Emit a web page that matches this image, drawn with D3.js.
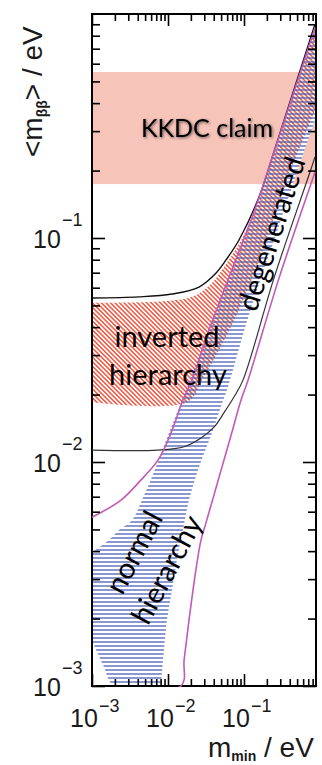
<!DOCTYPE html>
<html><head><meta charset="utf-8">
<script src="https://cdn.jsdelivr.net/npm/d3@7"></script>
<style>html,body{margin:0;padding:0;background:#fff;} svg{display:block;}</style>
</head><body><svg id="c" width="322" height="765"></svg>
<script>
// ---- data ----
const xDomain = [0.001, 0.886];
const yDomain = [0.001, 1];
const xMajorTicks = [1e-3, 1e-2, 1e-1];
const yMajorTicks = [1e-3, 1e-2, 1e-1];
const xTickExponents = ["\u22123", "\u22122", "\u22121"];
const yTickExponents = ["\u22123", "\u22122", "\u22121"];
const kkdcBand = [0.174, 0.551];

// black lines (inverted hierarchy bounds)
const ihUpperLine = [[0.001,0.0540],[0.00415,0.0546],[0.0113,0.0562],[0.0256,0.0604],[0.0429,0.0698],
 [0.0580,0.0798],[0.0859,0.098],[0.157,0.152],[0.272,0.268],[0.859,0.901]];
const ihLowerLine = [[0.001,0.0113],[0.00738,0.0113],[0.0163,0.0117],[0.0272,0.0128],[0.0403,0.0143],
 [0.0546,0.0166],[0.0738,0.0195],[0.0970,0.0232],[0.248,0.0662],[0.716,0.191],[0.859,0.230]];
// magenta lines (normal hierarchy bounds)
const nhUpperLine = [[0.001,0.00567],[0.00241,0.00676],[0.00442,0.00832],[0.00738,0.0102],[0.01,0.0125],
 [0.0127,0.0154],[0.0157,0.0189],[0.0207,0.0232],[0.0346,0.0388],[0.0675,0.0705],
 [0.136,0.131],[0.264,0.258],[0.859,0.866]];
const nhLowerLine = [[0.001,0],[0.0148,0],[0.0163,0.00131],[0.0189,0.00197],[0.0233,0.00330],[0.0272,0.00449],
 [0.0316,0.00535],[0.0403,0.00713],[0.0514,0.00951],[0.0695,0.0136],[0.0914,0.0189],
 [0.113,0.0232],[0.289,0.0662],[0.834,0.191],[0.859,0.197]];
// red hatched region (inverted hierarchy)
const ihHatchUpper = [[0.001,0.0513],[0.0103,0.0524],[0.0220,0.0551],[0.0368,0.0624],[0.0546,0.0743],
 [0.0859,0.0941],[0.157,0.146],[0.272,0.258],[0.859,0.866]];
const ihHatchLower = [[0.001,0.0185],[0.0178,0.0185],[0.0280,0.0232],[0.0469,0.0316],[0.0859,0.0478],
 [0.168,0.0839],[0.391,0.191],[0.859,0.372]];
// blue hatched region (normal hierarchy)
const nhHatchUpper = [[0.001,0.00396],[0.00167,0.00449],[0.00226,0.00497],[0.00336,0.00550],[0.00455,0.00676],
 [0.00695,0.00951],[0.0103,0.0135],[0.0153,0.0189],[0.0220,0.0258],[0.0346,0.0388],[0.0675,0.0705],
 [0.136,0.131],[0.264,0.258],[0.859,0.849]];
const nhHatchLower = [[0.001,0.00160],[0.00140,0.00124],[0.00195,0],[0.0080,0],[0.00809,0.00103],
 [0.00885,0.00145],[0.0097,0.00197],[0.0113,0.00268],[0.0131,0.00365],[0.0157,0.00497],[0.0189,0.00676],
 [0.0256,0.00951],[0.0380,0.0135],[0.0514,0.0183],[0.0615,0.0216],[0.116,0.0453],[0.298,0.117],[0.859,0.337]];

// ---- drawing ----
const plot = {left:92, right:316, top:14, bottom:686};
const svg = d3.select("#c");
const x = d3.scaleLog().domain(xDomain).range([plot.left, plot.right]);
const y = d3.scaleLog().domain(yDomain).range([plot.bottom, plot.top]);
const yc = v => y(Math.max(v, yDomain[0]));

const defs = svg.append("defs");
defs.append("clipPath").attr("id","clip").append("rect")
  .attr("x",plot.left).attr("y",plot.top-1).attr("width",plot.right-plot.left).attr("height",plot.bottom-plot.top+2);
const pb = defs.append("pattern").attr("id","blueH").attr("patternUnits","userSpaceOnUse")
  .attr("width",8).attr("height",4);
pb.append("line").attr("x1",0).attr("x2",8).attr("y1",2).attr("y2",2)
  .attr("stroke","#4a5fb5").attr("stroke-width",1.3);
const pr = defs.append("pattern").attr("id","redH").attr("patternUnits","userSpaceOnUse")
  .attr("width",3.2).attr("height",3.2).attr("patternTransform","rotate(-45)");
pr.append("line").attr("x1",1.6).attr("x2",1.6).attr("y1",0).attr("y2",3.2)
  .attr("stroke","#f2553f").attr("stroke-width",1.5);
const sh = defs.append("filter").attr("id","shadow").attr("x","-20%").attr("y","-40%").attr("width","140%").attr("height","180%");
sh.append("feGaussianBlur").attr("in","SourceAlpha").attr("stdDeviation",1.6).attr("result","b");
sh.append("feOffset").attr("in","b").attr("dx",1.2).attr("dy",1.2).attr("result","o");
sh.append("feComponentTransfer").attr("in","o").attr("result","o2")
  .append("feFuncA").attr("type","linear").attr("slope",0.6);
const fm = sh.append("feMerge");
fm.append("feMergeNode").attr("in","o2");
fm.append("feMergeNode").attr("in","SourceGraphic");

const pl = svg.append("g").attr("clip-path","url(#clip)");

// KKDC band
pl.append("rect").attr("x",plot.left).attr("width",plot.right-plot.left)
  .attr("y",y(kkdcBand[1])).attr("height",y(kkdcBand[0])-y(kkdcBand[1])).attr("fill","#f7c4ba");

const cr = d3.line().x(d=>x(d[0])).y(d=>yc(d[1])).curve(d3.curveCatmullRom.alpha(0.5));
function regionPath(upper, lower){
  const a = cr(upper);
  const b = cr(lower.slice().reverse());
  return a + "L" + b.slice(1) + "Z";
}
const redPath = regionPath(ihHatchUpper, ihHatchLower);
const bluePath = regionPath(nhHatchUpper, nhHatchLower);
pl.append("path").attr("d",redPath).attr("fill","#fff");
pl.append("path").attr("d",bluePath).attr("fill","#fff");
pl.append("path").attr("d",redPath).attr("fill","url(#redH)");
pl.append("path").attr("d",bluePath).attr("fill","url(#blueH)");

// frame
svg.append("rect").attr("x",plot.left).attr("y",plot.top).attr("width",plot.right-plot.left)
  .attr("height",plot.bottom-plot.top).attr("fill","none").attr("stroke","#000").attr("stroke-width",2);

// lines
const lg = svg.append("g").attr("clip-path","url(#clip)").attr("fill","none");
lg.append("path").attr("d",cr(ihUpperLine)).attr("stroke","#111").attr("stroke-width",1.4);
lg.append("path").attr("d",cr(ihLowerLine)).attr("stroke","#333").attr("stroke-width",1.2);
lg.append("path").attr("d",cr(nhUpperLine)).attr("stroke","#c25ab8").attr("stroke-width",1.6);
lg.append("path").attr("d",cr(nhLowerLine)).attr("stroke","#c25ab8").attr("stroke-width",1.6);

// annotations
const tf = "Lato, 'Open Sans', sans-serif";
svg.append("text").attr("x",207).attr("y",137).attr("text-anchor","middle")
  .attr("font-family",tf).attr("font-size",25).attr("fill","#000").attr("filter","url(#shadow)").text("KKDC claim");
const ih = svg.append("g").attr("font-family",tf).attr("font-size",29).attr("fill","#000").attr("text-anchor","middle");
ih.append("text").attr("x",167).attr("y",347).text("inverted");
ih.append("text").attr("x",168).attr("y",385).text("hierarchy");
svg.append("text").attr("transform","translate(281,237) rotate(-72)").attr("text-anchor","middle")
  .attr("font-family",tf).attr("font-size",29).attr("fill","#000").text("degenerated");
const nh = svg.append("g").attr("transform","translate(143,557) rotate(-62)")
  .attr("font-family",tf).attr("font-size",29).attr("fill","#000").attr("text-anchor","middle");
nh.append("text").attr("x",0).attr("y",0).text("normal");
nh.append("text").attr("x",0).attr("y",37).text("hierarchy");

// axes ticks (inside)
const minor = [];
for (let e=-3; e<=0; e++) for (let k=2;k<=9;k++){ minor.push(k*Math.pow(10,e)); }
const xMinor = minor.filter(v=>v>xDomain[0] && v<xDomain[1]);
const yMinor = minor.filter(v=>v>yDomain[0] && v<yDomain[1]);
function styleAxis(g){ g.select(".domain").remove(); g.selectAll("line").attr("stroke","#000").attr("stroke-width",1.6); g.selectAll("text").remove(); }
svg.append("g").attr("transform",`translate(0,${plot.bottom})`).call(d3.axisBottom(x).tickValues(xMajorTicks).tickSize(-12).tickSizeOuter(0)).call(styleAxis);
svg.append("g").attr("transform",`translate(0,${plot.bottom})`).call(d3.axisBottom(x).tickValues(xMinor).tickSize(-7).tickSizeOuter(0)).call(styleAxis);
svg.append("g").attr("transform",`translate(0,${plot.top})`).call(d3.axisTop(x).tickValues(xMajorTicks).tickSize(-12).tickSizeOuter(0)).call(styleAxis);
svg.append("g").attr("transform",`translate(0,${plot.top})`).call(d3.axisTop(x).tickValues(xMinor).tickSize(-7).tickSizeOuter(0)).call(styleAxis);
svg.append("g").attr("transform",`translate(${plot.left},0)`).call(d3.axisLeft(y).tickValues(yMajorTicks).tickSize(-13).tickSizeOuter(0)).call(styleAxis);
svg.append("g").attr("transform",`translate(${plot.left},0)`).call(d3.axisLeft(y).tickValues(yMinor).tickSize(-8).tickSizeOuter(0)).call(styleAxis);
svg.append("g").attr("transform",`translate(${plot.right},0)`).call(d3.axisRight(y).tickValues(yMajorTicks).tickSize(-13).tickSizeOuter(0)).call(styleAxis);
svg.append("g").attr("transform",`translate(${plot.right},0)`).call(d3.axisRight(y).tickValues(yMinor).tickSize(-8).tickSizeOuter(0)).call(styleAxis);

// tick labels
const af = "'Liberation Sans', Arial, Helvetica, sans-serif";
const lab = svg.append("g").attr("font-family",af).attr("fill","#1a1a1a");
yMajorTicks.forEach((t,i)=>{
  lab.append("text").attr("x",33).attr("y",y(t)+10).attr("font-size",25).text("10");
  lab.append("text").attr("x",62).attr("y",y(t)-12).attr("font-size",18).text(yTickExponents[i]);
});
xMajorTicks.forEach((t,i)=>{
  lab.append("text").attr("x",x(t)-22).attr("y",727).attr("font-size",25).text("10");
  lab.append("text").attr("x",x(t)+7).attr("y",712).attr("font-size",18).text(xTickExponents[i]);
});
// axis titles
const xt = svg.append("text").attr("x",208).attr("y",757).attr("font-family",af).attr("font-size",28).attr("fill","#1a1a1a");
xt.append("tspan").text("m");
xt.append("tspan").attr("font-size",14).attr("font-weight","bold").attr("dy",4).text("min");
xt.append("tspan").attr("dy",-4).text(" / eV");
const yt = svg.append("text").attr("transform","translate(42,157) rotate(-90)").attr("font-family",af).attr("font-size",28).attr("fill","#1a1a1a");
yt.append("tspan").text("<m");
yt.append("tspan").attr("font-size",14).attr("font-weight","bold").attr("dy",5).text("\u03b2\u03b2");
yt.append("tspan").attr("dy",-5).text("> / eV");
</script></body></html>
